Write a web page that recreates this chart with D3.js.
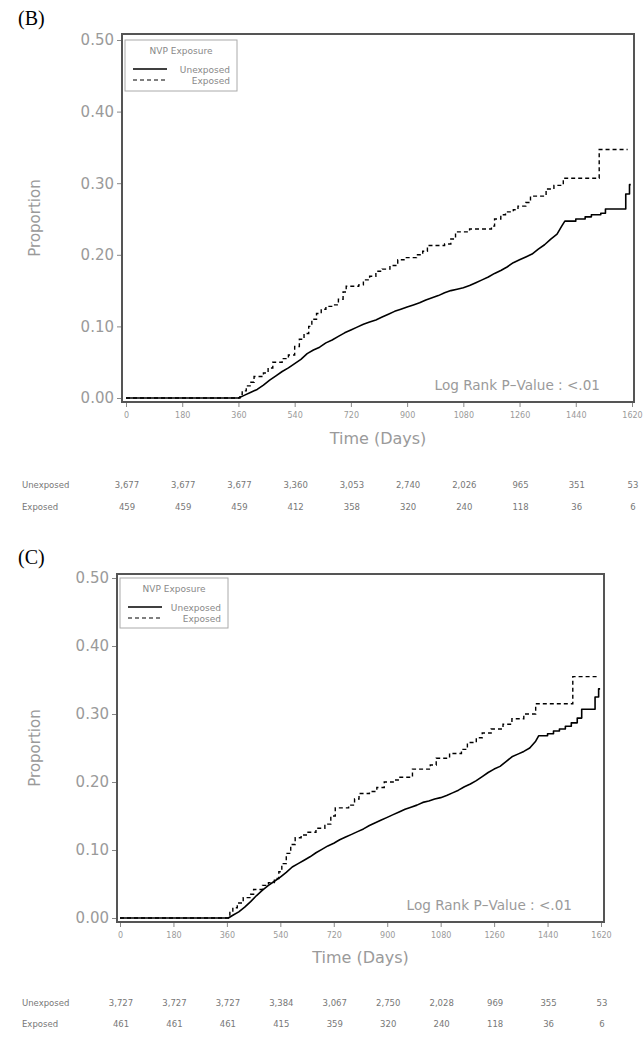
<!DOCTYPE html>
<html>
<head>
<meta charset="utf-8">
<script src="https://cdn.jsdelivr.net/npm/d3@7"></script>
<style>
  html, body { margin: 0; padding: 0; background: #fff; }
  svg { display: block; }
  text { font-family: "DejaVu Sans", sans-serif; }
</style>
</head>
<body>
<script>
// ---------- DATA ----------
const xTicks = [0, 180, 360, 540, 720, 900, 1080, 1260, 1440, 1620];
const yTicks = [0.00, 0.10, 0.20, 0.30, 0.40, 0.50];
const seriesNames = ["Unexposed", "Exposed"];

// Panel B — cumulative proportion: [day, proportion]
// Unexposed: many tiny steps (drawn as a traced line, explicit jumps repeated)
const bUnexposed = [
  [0,0],[360,0],[380,0.004],[400,0.008],[420,0.012],[440,0.018],[460,0.025],[480,0.031],[500,0.037],
  [520,0.042],[540,0.048],[560,0.054],[580,0.062],[600,0.067],[620,0.071],[640,0.077],[660,0.081],
  [680,0.086],[700,0.091],[720,0.095],[740,0.099],[760,0.103],[780,0.106],[800,0.109],[820,0.113],
  [840,0.117],[860,0.121],[880,0.124],[900,0.127],[920,0.130],[940,0.133],[960,0.137],[980,0.140],
  [1000,0.143],[1020,0.147],[1040,0.150],[1060,0.152],[1080,0.154],[1100,0.157],[1120,0.161],
  [1140,0.165],[1160,0.169],[1180,0.174],[1200,0.178],[1220,0.183],[1240,0.189],[1260,0.193],
  [1280,0.197],[1300,0.201],[1320,0.208],[1340,0.214],[1360,0.222],[1380,0.229],[1395,0.240],
  [1405,0.247],[1440,0.247],[1440,0.250],[1470,0.250],[1470,0.253],[1490,0.253],[1490,0.256],
  [1520,0.256],[1520,0.258],[1535,0.258],[1535,0.264],[1600,0.264],[1600,0.285],[1612,0.285],
  [1612,0.298],[1616,0.298]
];
const bExposed = [
  [0,0],[360,0],[365,0.005],[372,0.010],[385,0.017],[400,0.022],[410,0.030],[440,0.035],[455,0.042],
  [470,0.050],[500,0.055],[520,0.060],[540,0.072],[555,0.082],[570,0.090],[585,0.100],[595,0.110],
  [610,0.118],[625,0.124],[640,0.128],[665,0.130],[680,0.138],[695,0.148],[705,0.156],[745,0.158],
  [760,0.165],[780,0.170],[800,0.177],[820,0.180],[845,0.185],[870,0.193],[890,0.196],[930,0.200],
  [950,0.205],[965,0.213],[1020,0.215],[1040,0.222],[1055,0.232],[1100,0.236],[1170,0.240],
  [1180,0.250],[1200,0.256],[1215,0.260],[1240,0.263],[1255,0.268],[1280,0.273],[1295,0.282],
  [1345,0.292],[1370,0.297],[1400,0.307],[1515,0.347],[1606,0.347]
];
const bRiskUnexposed = ["3,677","3,677","3,677","3,360","3,053","2,740","2,026","965","351","53"];
const bRiskExposed   = ["459","459","459","412","358","320","240","118","36","6"];

// Panel C
const cUnexposed = [
  [0,0],[365,0],[380,0.004],[400,0.009],[420,0.016],[440,0.024],[460,0.033],[480,0.041],[500,0.048],
  [520,0.054],[540,0.060],[560,0.067],[580,0.075],[600,0.080],[620,0.085],[640,0.090],[660,0.096],
  [680,0.101],[700,0.106],[720,0.110],[740,0.115],[760,0.119],[780,0.123],[800,0.127],[820,0.131],
  [840,0.136],[860,0.140],[880,0.144],[900,0.148],[920,0.152],[940,0.156],[960,0.160],[980,0.163],
  [1000,0.166],[1020,0.170],[1040,0.172],[1060,0.175],[1080,0.177],[1100,0.180],[1120,0.184],
  [1140,0.188],[1160,0.193],[1180,0.197],[1200,0.202],[1220,0.208],[1240,0.214],[1260,0.219],
  [1280,0.223],[1300,0.230],[1320,0.237],[1340,0.241],[1360,0.245],[1380,0.250],[1400,0.260],
  [1410,0.268],[1440,0.268],[1440,0.271],[1460,0.271],[1460,0.275],[1480,0.275],[1480,0.278],
  [1500,0.278],[1500,0.282],[1520,0.282],[1520,0.287],[1540,0.287],[1540,0.294],[1555,0.294],
  [1555,0.307],[1600,0.307],[1600,0.325],[1612,0.325],[1612,0.337],[1617,0.337]
];
const cExposed = [
  [0,0],[365,0],[370,0.008],[380,0.015],[395,0.022],[415,0.030],[440,0.035],[450,0.042],[480,0.048],
  [500,0.052],[520,0.058],[535,0.068],[545,0.080],[560,0.095],[575,0.108],[590,0.118],[610,0.122],
  [630,0.126],[660,0.132],[690,0.138],[710,0.150],[725,0.162],[770,0.166],[790,0.175],[805,0.183],
  [840,0.186],[865,0.192],[890,0.200],[920,0.203],[940,0.207],[985,0.219],[1045,0.225],[1065,0.235],
  [1110,0.242],[1150,0.248],[1170,0.258],[1200,0.265],[1220,0.272],[1250,0.278],[1290,0.285],
  [1320,0.293],[1360,0.300],[1400,0.315],[1525,0.355],[1606,0.355]
];
const cRiskUnexposed = ["3,727","3,727","3,727","3,384","3,067","2,750","2,028","969","355","53"];
const cRiskExposed   = ["461","461","461","415","359","320","240","118","36","6"];

// ---------- DRAW ----------
const W = 644, H = 1050;
const svg = d3.select("body").append("svg").attr("width", W).attr("height", H);
const TXT = "#9a9a9a", FRAME = "#555";

function panel(cfg) {
  const g = svg.append("g");
  const x = d3.scaleLinear().domain([0, 1620]).range(cfg.xr);
  const y = d3.scaleLinear().domain([0, 0.5]).range(cfg.yr);
  const f = cfg.frame;

  g.append("text").attr("x", cfg.letter[0]).attr("y", cfg.letter[1])
    .style("font-family", "'Liberation Serif', 'Times New Roman', serif")
    .style("font-size", "20px").attr("fill", "#000").text(cfg.label);

  g.append("rect").attr("x", f.l).attr("y", f.t).attr("width", f.r - f.l).attr("height", f.b - f.t)
    .attr("fill", "none").attr("stroke", FRAME).attr("stroke-width", 2);

  const ya = g.append("g").attr("transform", `translate(${f.l - 1},0)`)
    .call(d3.axisLeft(y).tickValues(yTicks).tickFormat(d3.format(".2f")).tickSize(4).tickPadding(3));
  ya.select(".domain").remove();
  ya.selectAll("line").attr("stroke", "#888");
  ya.selectAll("text").attr("fill", TXT).style("font-size", "15px").style("font-family", "'DejaVu Sans', sans-serif");

  const xa = g.append("g").attr("transform", `translate(0,${f.b + 1})`)
    .call(d3.axisBottom(x).tickValues(xTicks).tickFormat(d3.format("d")).tickSize(4).tickPadding(5));
  xa.select(".domain").remove();
  xa.selectAll("line").attr("stroke", "#888");
  xa.selectAll("text").attr("fill", TXT).style("font-size", "8px").style("font-family", "'DejaVu Sans', sans-serif");

  g.append("text").attr("x", (f.l + f.r) / 2).attr("y", cfg.xTitleY).attr("text-anchor", "middle")
    .attr("fill", TXT).style("font-size", "16px").text("Time (Days)");
  g.append("text").attr("transform", `translate(${cfg.yTitleX},${(f.t + f.b) / 2}) rotate(-90)`)
    .attr("text-anchor", "middle").attr("fill", TXT).style("font-size", "15px").text("Proportion");

  const traced = d3.line().x(d => x(d[0])).y(d => y(d[1])).curve(d3.curveLinear);
  const stepped = d3.line().x(d => x(d[0])).y(d => y(d[1])).curve(d3.curveStepAfter);
  g.append("path").datum(cfg.unexp).attr("d", traced).attr("fill", "none")
    .attr("stroke", "#000").attr("stroke-width", 1.6).attr("stroke-linejoin", "round");
  g.append("path").datum(cfg.exp).attr("d", stepped).attr("fill", "none")
    .attr("stroke", "#000").attr("stroke-width", 1.4).attr("stroke-dasharray", "4,3");

  const L = cfg.legend;
  g.append("rect").attr("x", L.x).attr("y", L.y).attr("width", L.w).attr("height", L.h)
    .attr("fill", "#fff").attr("stroke", "#aaa").attr("stroke-width", 1);
  g.append("text").attr("x", L.x + L.w / 2).attr("y", L.y + 14).attr("text-anchor", "middle")
    .attr("fill", "#888").style("font-size", "9px").text("NVP Exposure");
  seriesNames.forEach((nm, i) => {
    const ly = L.y + 29 + i * 11;
    g.append("line").attr("x1", L.x + 8).attr("x2", L.x + 42).attr("y1", ly).attr("y2", ly)
      .attr("stroke", "#000").attr("stroke-width", i ? 1.2 : 1.6)
      .attr("stroke-dasharray", i ? "4,3" : null);
    g.append("text").attr("x", L.x + L.w - 7).attr("y", ly + 3.5).attr("text-anchor", "end")
      .attr("fill", "#888").style("font-size", "9px").text(nm);
  });

  g.append("text").attr("x", cfg.lr[0]).attr("y", cfg.lr[1]).attr("text-anchor", "end")
    .attr("fill", TXT).style("font-size", "13.6px").text("Log Rank P\u2013Value : <.01");

  const rows = [cfg.riskU, cfg.riskE];
  rows.forEach((vals, i) => {
    const ry = cfg.riskY[i];
    g.append("text").attr("x", 22).attr("y", ry).attr("fill", "#777")
      .style("font-size", "8.5px").text(seriesNames[i]);
    g.selectAll(null).data(vals).enter().append("text")
      .attr("x", (d, j) => x(xTicks[j]) + 1).attr("y", ry).attr("text-anchor", "middle")
      .attr("fill", "#777").style("font-size", "8.5px").text(d => d);
  });
}

panel({
  label: "(B)", letter: [18, 25],
  frame: { l: 122, r: 634, t: 34, b: 402 },
  xr: [126, 632], yr: [398, 40],
  unexp: bUnexposed, exp: bExposed,
  legend: { x: 125, y: 40, w: 112, h: 51 },
  lr: [600, 390], xTitleY: 444, yTitleX: 40,
  riskU: bRiskUnexposed, riskE: bRiskExposed, riskY: [488, 510]
});

panel({
  label: "(C)", letter: [18, 564],
  frame: { l: 117, r: 604, t: 574, b: 922 },
  xr: [120, 601], yr: [918, 578],
  unexp: cUnexposed, exp: cExposed,
  legend: { x: 120, y: 578, w: 108, h: 50 },
  lr: [572, 910], xTitleY: 963, yTitleX: 40,
  riskU: cRiskUnexposed, riskE: cRiskExposed, riskY: [1006, 1027]
});
</script>
</body>
</html>
